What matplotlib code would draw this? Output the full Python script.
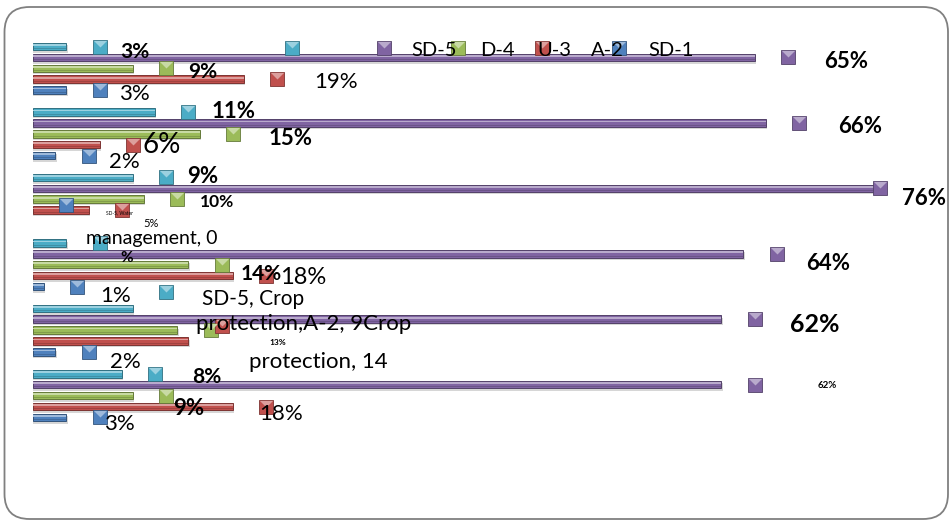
import numpy as np
import matplotlib
matplotlib.use("Agg")
import matplotlib.pyplot as plt
import matplotlib.colors as mcolors
from matplotlib.patches import FancyBboxPatch

plt.rcParams['font.family'] = ['Lato', 'DejaVu Sans']

# ---------------- data (groups listed top to bottom) ----------------
categories = ["Group A", "Group B", "Water management", "Group D", "Crop protection", "Group F"]
series_names = ["SD-5", "D-4", "U-3", "A-2", "SD-1"]
sd5 = [3, 11, 9, 3, 9, 8]
d4 = [65, 66, 76, 64, 62, 62]
u3 = [9, 15, 10, 14, 13, 9]
a2 = [19, 6, 5, 18, 14, 18]
sd1 = [3, 2, 0, 1, 2, 3]
values = [sd5, d4, u3, a2, sd1]
colors = ["#4BACC6", "#8064A2", "#9BBB59", "#C0504D", "#4F81BD"]

# ---------------- layout ----------------
W, H = 952, 521
PX_X0, PX_PER_PCT = 33, 11.1
PX_Y0, PX_PER_SLOT = 46.5, 10.91
AX_TOP, AX_BOT, AX_RIGHT = 15, 505, 943
BAR_H = 0.69
MARKER_GAP = 3.0  # data-label key sits 3 % right of bar end

# marker special offsets: (series, group) -> (x shift in %, y shift in px)
marker_adjust = {(1, 2): (-2.7, 0), (4, 2): (0, -16), (0, 4): (0, -16), (3, 4): (0, -15.5)}

# label specs: (series, group, text or None, dx px, dy px (down), size pt, bold)
label_specs = [
    (0, 0, None, 35.4, 11.5, 15, True),
    (1, 0, None, 58, 10.6, 16, True),
    (2, 0, None, 36, 10, 15, True),
    (3, 0, None, 59, 9, 16, False),
    (4, 0, None, 35, 10, 16, False),
    (0, 1, None, 45, 6, 16, True),
    (1, 1, None, 61, 10, 16, True),
    (2, 1, None, 58, 11, 16, True),
    (3, 1, None, 29, 8, 20, False),
    (4, 1, None, 36, 12, 16, False),
    (0, 2, None, 36, 6, 16, True),
    (1, 2, None, 44, 17, 16, True),
    (2, 2, None, 40, 7.5, 12.5, True),
    (3, 2, None, 29, 16.5, 8, False),
    (3, 2, "SD-5, Water", -2.5, 4, 3.5, False),
    (4, 2, "management, 0", 85, 39, 14, False),
    (4, 2, "%", 60, 57, 11, True),
    (1, 3, None, 51, 16, 16, True),
    (2, 3, None, 39, 15, 15, True),
    (3, 3, None, 37, 8.5, 17, False),
    (4, 3, None, 38, 15.5, 16, False),
    (0, 4, "SD-5, Crop", 87, 13, 15, False),
    (0, 4, "protection,A-2, 9Crop", 137, 38, 16, False),
    (1, 4, None, 60, 12.5, 18, True),
    (2, 4, None, 67, 15, 6, True),
    (3, 4, "protection, 14", 97, 42.5, 16, False),
    (4, 4, None, 36.5, 16, 16, False),
    (0, 5, None, 52, 9.5, 15, True),
    (1, 5, None, 72.5, 3.5, 7, True),
    (2, 5, None, 22, 19, 16, True),
    (3, 5, None, 15, 13.5, 16, False),
    (4, 5, None, 19.5, 12.6, 16, False),
]


def lighten(c, f):
    r = np.array(mcolors.to_rgb(c))
    return tuple(r + (1 - r) * f)


def darken(c, f):
    r = np.array(mcolors.to_rgb(c))
    return tuple(r * (1 - f))


fig = plt.figure(figsize=(W / 100, H / 100), dpi=100)
fig.patch.set_facecolor("white")

ax = fig.add_axes([PX_X0 / W, 1 - AX_BOT / H, (AX_RIGHT - PX_X0) / W, (AX_BOT - AX_TOP) / H])
ax.set_xlim(0, (AX_RIGHT - PX_X0) / PX_PER_PCT)
ax.set_ylim((AX_BOT - PX_Y0) / PX_PER_SLOT, (AX_TOP - PX_Y0) / PX_PER_SLOT)
ax.axis("off")

n_groups = len(categories)
tri = [(-1, 1), (1, 1), (0, 0)]

for s, (vals, col) in enumerate(zip(values, colors)):
    vals = np.array(vals, dtype=float)
    ys = np.arange(n_groups) * 6 + s
    light = lighten(col, 0.45)
    dark = darken(col, 0.35)
    nz = vals > 0
    # shadow
    ax.barh(ys[nz] + 0.22, vals[nz] + 0.12, height=BAR_H, color="#8c8c8c", alpha=0.35, lw=0, zorder=1)
    # main bar
    ax.barh(ys[nz], vals[nz], height=BAR_H, color=col, edgecolor=dark, lw=0.7, zorder=2)
    # highlight and lower shade
    ax.barh(ys[nz] - BAR_H * 0.2, vals[nz], height=BAR_H * 0.22, color=light, lw=0, zorder=3)
    ax.barh(ys[nz] + BAR_H * 0.3, vals[nz], height=BAR_H * 0.14, color=dark, alpha=0.45, lw=0, zorder=3)

    # data label keys
    mx = vals + MARKER_GAP
    my = ys.astype(float).copy()
    for g in range(n_groups):
        if (s, g) in marker_adjust:
            ddx, ddy = marker_adjust[(s, g)]
            mx[g] += ddx
            my[g] += ddy / PX_PER_SLOT
    ax.plot(mx, my, ls="none", marker="s", ms=10.5, mfc=col, mec=dark, mew=0.6, zorder=5)
    ax.plot(mx, my, ls="none", marker=tri, ms=9.5, mfc=light, mec="none", zorder=6)

    for (ss, g, text, dx, dy, size, bold) in label_specs:
        if ss != s:
            continue
        t = text if text is not None else f"{int(vals[g])}%"
        ax.annotate(t, xy=(mx[g], my[g]), xytext=(dx, -dy), textcoords="offset pixels",
                    ha="center", va="baseline", fontsize=size,
                    fontweight="bold" if bold else "normal", color="black", zorder=7)

# ---------------- overlay: frame and legend ----------------
ov = fig.add_axes([0, 0, 1, 1])
ov.set_xlim(0, W)
ov.set_ylim(H, 0)
ov.axis("off")

frame = FancyBboxPatch((4.5, 7), 943.5, 512, boxstyle="round,pad=0,rounding_size=25",
                       fc="none", ec="#808080", lw=1.3)
ov.add_patch(frame)

legend_text_x = [434.5, 497, 554.5, 607.5, 671]
legend_marker_x = [292, 384, 458, 542, 619]
legend_marker_color = ["#4BACC6", "#8064A2", "#9BBB59", "#C0504D", "#4F81BD"]
for mxp, col in zip(legend_marker_x, legend_marker_color):
    ov.plot([mxp], [47.5], ls="none", marker="s", ms=10.5, mfc=col, mec=darken(col, 0.35), mew=0.6, zorder=2)
    ov.plot([mxp], [47.5], ls="none", marker=tri, ms=9.5, mfc=lighten(col, 0.45), mec="none", zorder=3)
for name, tx in zip(series_names, legend_text_x):
    ov.text(tx, 56.5, name, ha="center", va="baseline", fontsize=14.5, color="black", zorder=4)

fig.savefig("out.png", dpi=100)
